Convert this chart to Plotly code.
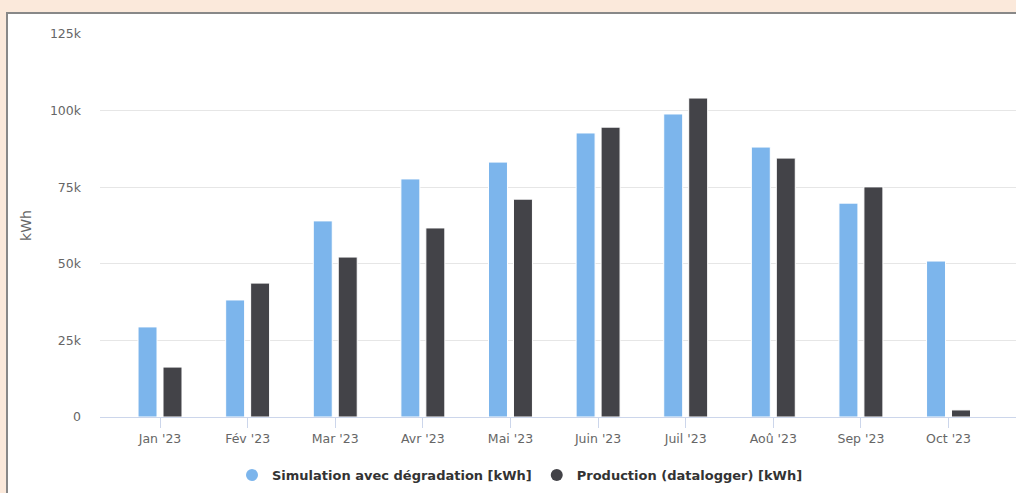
import plotly.graph_objects as go

months = ["Jan '23", "Fév '23", "Mar '23", "Avr '23", "Mai '23", "Juin '23",
          "Juil '23", "Aoû '23", "Sep '23", "Oct '23"]
simulation = [29400, 38200, 64000, 77700, 83200, 92700, 98900, 88100, 69800, 50900]
production = [16300, 43700, 52200, 61700, 71100, 94600, 104100, 84500, 75100, 2300]
ytick_vals = [0, 25000, 50000, 75000, 100000, 125000]
ytick_text = ["0", "25k", "50k", "75k", "100k", "125k"]
series_names = ["Simulation avec dégradation [kWh]", "Production (datalogger) [kWh]"]
colors = ["#7cb5ec", "#434348"]

W, H = 1016, 493
ml, mr, mt, mb = 100, 0, 34, 76
pw, ph = W - ml - mr, H - mt - mb

fig = go.Figure()
for name, vals, c in zip(series_names, [simulation, production], colors):
    fig.add_trace(go.Bar(x=months, y=vals, name=name, marker=dict(color=c, line=dict(color="#ffffff", width=1)),
                         showlegend=False))
for name, c in zip(series_names, colors):
    fig.add_trace(go.Scatter(x=[None], y=[None], mode="markers", name=name,
                             marker=dict(symbol="circle", size=14, color=c)))

font = "DejaVu Sans, Lucida Grande, sans-serif"
fig.update_layout(
    width=W, height=H,
    margin=dict(l=ml, r=mr, t=mt, b=mb, pad=0),
    paper_bgcolor="#fbe9db",
    plot_bgcolor="#ffffff",
    barmode="group", bargap=0.43, bargroupgap=0.24,
    font=dict(family=font, size=13, color="#666666"),
    xaxis=dict(range=[-0.685, 9.77], showgrid=False, showline=True, linecolor="#ccd6eb", linewidth=1,
               ticks="outside", ticklen=10, tickcolor="#ccd6eb", tickfont=dict(size=12.5, color="#666666"),
               zeroline=False, fixedrange=True),
    yaxis=dict(range=[0, 125000], tickvals=ytick_vals, ticktext=ytick_text, showgrid=True,
               gridcolor="#e6e6e6", gridwidth=1, zeroline=False, ticks="", ticklabelstandoff=18,
               tickfont=dict(size=12.5, color="#666666"),
               title=dict(text="kWh", font=dict(size=14, color="#666666"), standoff=14)),
    legend=dict(orientation="h", x=(520 - ml) / pw, xanchor="center", y=(417 - 475) / ph, yanchor="middle",
                font=dict(size=13, color="#333333", family=font, weight="bold"),
                bgcolor="rgba(0,0,0,0)", itemsizing="constant", traceorder="normal"),
    shapes=[dict(type="rect", xref="paper", yref="paper", layer="below",
                 x0=(7 - ml) / pw, x1=1.05, y0=-0.5, y1=(H - mb - 13) / ph,
                 fillcolor="#ffffff", line=dict(color="#888888", width=2))],
    showlegend=True,
)
fig.write_html("out.html", config={"displayModeBar": False},
               post_script="document.body.style.margin='0';document.body.style.overflow='hidden';"
                           "document.body.style.background='#fbe9db';")
